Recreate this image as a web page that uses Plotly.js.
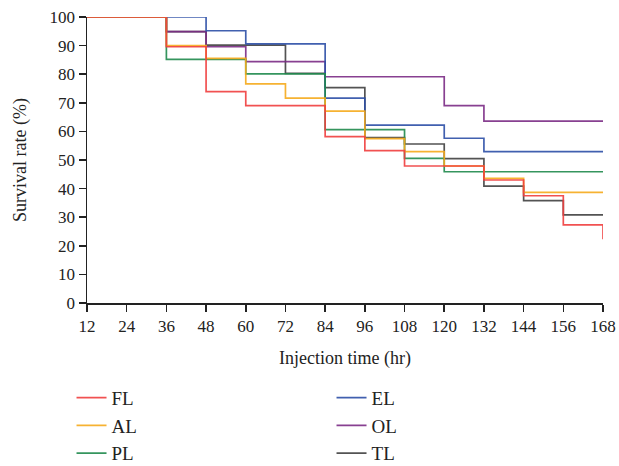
<!DOCTYPE html>
<html>
<head>
<meta charset="utf-8">
<script src="https://cdn.plot.ly/plotly-3.0.1.min.js"></script>
<style>html,body{margin:0;padding:0;background:#fff;}#chart{width:619px;height:466px;}</style>
</head>
<body>
<div id="chart"></div>
<script>
const times = [12, 36, 48, 60, 72, 84, 96, 108, 120, 132, 144, 156, 168];
const FL = [100, 89.6, 73.9, 69.0, 69.0, 58.2, 53.3, 47.9, 47.9, 43.0, 37.5, 27.3, 22.3];
const AL = [100, 90.0, 85.5, 76.6, 71.6, 67.1, 57.5, 52.9, 47.9, 43.6, 38.7, 38.7, 38.7];
const PL = [100, 85.2, 85.2, 80.1, 80.1, 60.6, 60.6, 50.6, 45.9, 45.9, 45.9, 45.9, 45.9];
const EL = [100, 100, 95.2, 90.6, 90.6, 71.6, 62.2, 62.2, 57.6, 52.9, 52.9, 52.9, 52.9];
const OL = [100, 94.9, 89.6, 84.4, 84.4, 79.1, 79.1, 79.1, 69.0, 63.6, 63.6, 63.6, 63.6];
const TL = [100, 94.9, 90.2, 90.2, 80.3, 75.3, 57.8, 55.6, 50.5, 40.9, 35.8, 30.8, 30.8];
const xTicks = [12, 24, 36, 48, 60, 72, 84, 96, 108, 120, 132, 144, 156, 168];
const yTicks = [0, 10, 20, 30, 40, 50, 60, 70, 80, 90, 100];

const series = [
  {name: 'TL', y: TL, color: '#404040', rank: 6},
  {name: 'OL', y: OL, color: '#7b2b85', rank: 4},
  {name: 'EL', y: EL, color: '#2c4fa6', rank: 2},
  {name: 'PL', y: PL, color: '#1f8a4c', rank: 5},
  {name: 'AL', y: AL, color: '#f5aa1c', rank: 3},
  {name: 'FL', y: FL, color: '#ef3e3e', rank: 1}
];
const traces = series.map(s => ({
  x: times, y: s.y, name: s.name, type: 'scatter', mode: 'lines',
  line: {shape: 'hv', color: s.color, width: 1.7},
  opacity: 0.9, legendrank: s.rank, cliponaxis: false
}));

const font = {family: '"Liberation Serif", "DejaVu Serif", serif', color: '#222', size: 17};
const layout = {
  width: 619, height: 466,
  margin: {l: 87, r: 16, t: 17, b: 163, autoexpand: false},
  paper_bgcolor: '#fff', plot_bgcolor: '#fff',
  font: font,
  showlegend: true,
  xaxis: {
    range: [12, 168], tickvals: xTicks, ticktext: xTicks.map(String),
    showgrid: false, zeroline: false, showline: true, linecolor: '#222', linewidth: 1.5,
    ticks: 'outside', ticklen: 7, tickwidth: 1.5, tickcolor: '#222',
    tickfont: {size: 17}, automargin: false,
    title: {text: 'Injection time (hr)', font: {size: 18}, standoff: 16}
  },
  yaxis: {
    range: [0, 100], tickvals: yTicks, ticktext: yTicks.map(String),
    showgrid: false, zeroline: false, showline: true, linecolor: '#222', linewidth: 1.5,
    ticks: 'outside', ticklen: 7, tickwidth: 1.5, tickcolor: '#222',
    tickfont: {size: 17}, automargin: false,
    title: {text: 'Survival rate (%)', font: {size: 18}, standoff: 18}
  },
  legend: {
    orientation: 'h', x: -0.03, y: -0.265, xanchor: 'left', yanchor: 'top',
    entrywidth: 215, entrywidthmode: 'pixels',
    font: {size: 19}, bgcolor: 'rgba(0,0,0,0)'
  }
};
Plotly.newPlot('chart', traces, layout, {displayModeBar: false, staticPlot: true});
</script>
</body>
</html>
